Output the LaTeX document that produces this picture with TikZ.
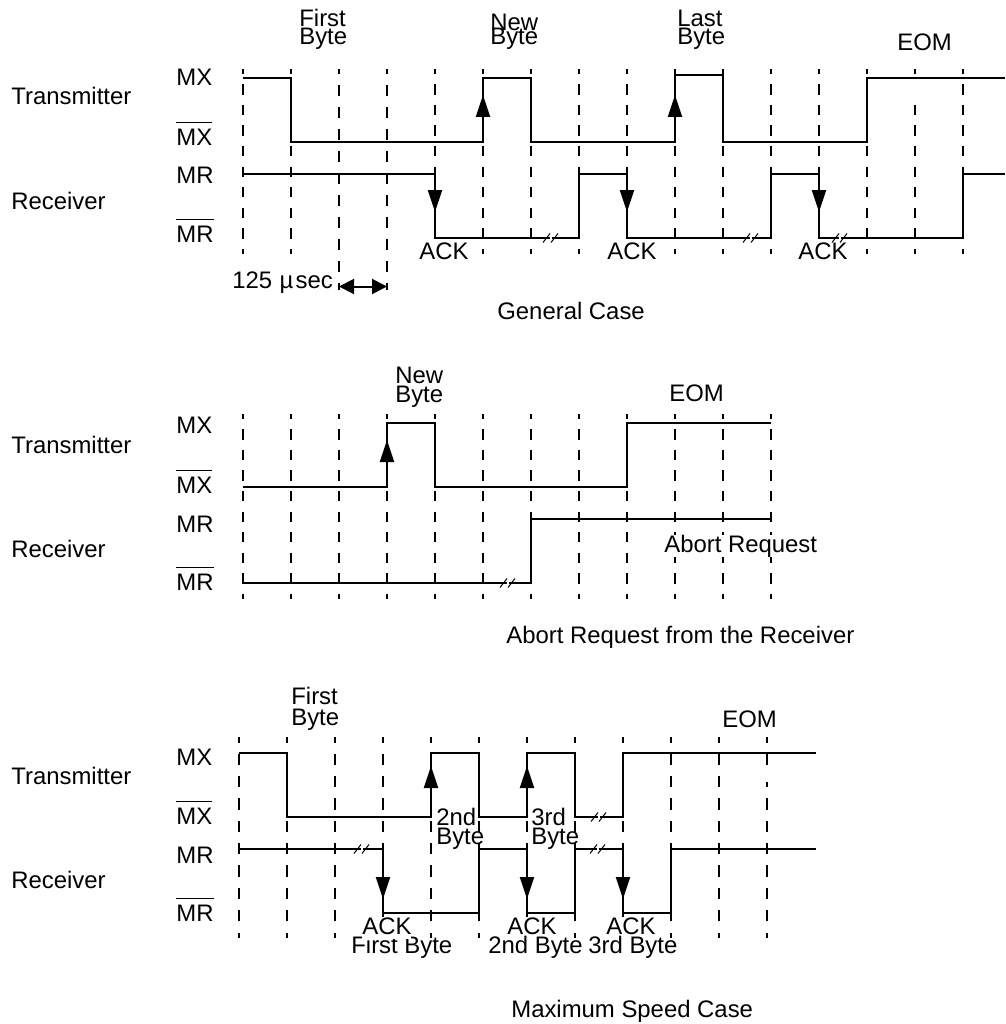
\documentclass[tikz,border=0pt]{standalone}
\usepackage{fontspec}
\setmainfont{Liberation Sans}
\usetikzlibrary{arrows.meta}

\newcommand{\barsig}[1]{\setbox0=\hbox{#1}\rlap{\rule[0.44cm]{\wd0}{0.03cm}}\box0}

\begin{document}
\begin{tikzpicture}[
    x=0.02cm, y=-0.02cm,
    lab/.style={anchor=base west, inner sep=0pt, align=left, font=\fontsize{13.6}{10.4}\selectfont},
    ack/.style={lab, fill=white},
    sig/.style={line width=0.04cm, line join=miter},
    grid14/.style={line width=0.04cm, dash pattern=on 0.206cm off 0.205cm, dash phase=0.103cm},
    gridlong/.style={line width=0.04cm, dash pattern=on 0.22cm off 0.22cm, dash phase=0.12cm},
    grid3/.style={line width=0.04cm, dash pattern=on 0.223cm off 0.224cm, dash phase=0.112cm},
    edge/.style={sig, -{Triangle[length=0.44cm, width=0.28cm]}},
    slash/.style={line width=0.02cm}
]
    \useasboundingbox (0,0) rectangle (1005,1024);

    % --- General case ---
    \foreach \x in {243,291,435,483,...,963}
        \draw[grid14] (\x,69) -- (\x,254);
    \foreach \x in {339,387}
        \draw[gridlong] (\x,69) -- (\x,290);
    \draw[white, line width=0.08cm] (915,84) -- (915,97);
    \draw[sig] (243,78) -- (291,78) -- (291,142) -- (483,142) -- (483,78) -- (531,78) -- (531,142) -- (675,142) -- (675,75) -- (723,75) -- (723,142) -- (867,142) -- (867,78) -- (1005,78);
    \draw[sig] (243,174) -- (435,174) -- (435,238) -- (579,238) -- (579,174) -- (627,174) -- (627,238) -- (771,238) -- (771,174) -- (819,174) -- (819,238) -- (963,238) -- (963,174) -- (1005,174);
    \draw[edge] (483,142) -- (483,95);
    \draw[edge] (675,142) -- (675,95);
    \draw[edge] (435,174) -- (435,212);
    \draw[edge] (627,174) -- (627,212);
    \draw[edge] (819,174) -- (819,212);
    \coordinate (wleft) at (339,286.5);
    \coordinate (wright) at (387,286.5);
    \draw[sig, {Triangle[length=0.3cm, width=0.3cm]}-{Triangle[length=0.3cm, width=0.3cm]}] (wleft) -- (wright);

    \node[lab] (xmtA) at (11,105) {Transmitter};
    \node[lab] (rcvA) at (11,209) {Receiver};
    \node[lab] (mxA) at (176,86) {MX};
    \node[lab] (nmxA) at (176,145) {\barsig{MX}};
    \node[lab] (mrA) at (176,183) {MR};
    \node[lab] (nmrA) at (176,242) {\barsig{MR}};
    \node[lab] (firstA) at (299,45) {First\\Byte};
    \node[lab] (newA) at (490,45) {New\\[-2.3pt]Byte};
    \node[lab] (lastA) at (677,45) {Last\\Byte};
    \node[lab] (eomA) at (897,51) {EOM};
    \node[ack] (ackA) at (419,259) {ACK};
    \node[ack] (ackB) at (607,259) {ACK};
    \node[ack] (ackC) at (798,259) {ACK};
    \node[lab] (timeA) at (232,288) {125 \hspace{0.5pt}µ\hspace{1.2pt}sec};
    \node[lab] (capA) at (497,319.5) {General Case};

    % --- Abort request ---
    \foreach \x in {243,291,...,771}
        \draw[grid14] (\x,414) -- (\x,599);
    \draw[sig] (243,487) -- (387,487) -- (387,423) -- (435,423) -- (435,487) -- (627,487) -- (627,423) -- (771,423);
    \draw[sig] (243,583) -- (531,583) -- (531,519) -- (771,519);
    \draw[edge] (387,487) -- (387,440);

    \node[lab] (xmtB) at (11,453) {Transmitter};
    \node[lab] (rcvB) at (11,557) {Receiver};
    \node[lab] (mxB) at (176,433) {MX};
    \node[lab] (nmxB) at (176,493) {\barsig{MX}};
    \node[lab] (mrB) at (176,532) {MR};
    \node[lab] (nmrB) at (176,590) {\barsig{MR}};
    \node[lab] (newB) at (395,402) {New\\Byte};
    \node[lab] (eomB) at (669,401) {EOM};
    \node[ack] (abortB) at (664,552) {Abort Request};
    \node[lab] (capB) at (506,643) {Abort Request from the Receiver};

    % --- Maximum speed ---
    \foreach \x in {239,287,...,767}
        \draw[grid3] (\x,737) -- (\x,938);
    \draw[white, line width=0.08cm] (767,775) -- (767,782);
    \draw[sig] (239,753) -- (287,753) -- (287,817) -- (431,817) -- (431,753) -- (479,753) -- (479,817) -- (527,817) -- (527,753) -- (575,753) -- (575,817) -- (623,817) -- (623,753) -- (816,753);
    \draw[sig] (239,849) -- (383,849) -- (383,913) -- (479,913) -- (479,849) -- (527,849) -- (527,913) -- (575,913) -- (575,849) -- (623,849) -- (623,913) -- (671,913) -- (671,849) -- (816,849);
    \draw[edge] (431,817) -- (431,766);
    \draw[edge] (527,817) -- (527,766);
    \draw[edge] (383,849) -- (383,899);
    \draw[edge] (527,849) -- (527,899);
    \draw[edge] (623,849) -- (623,899);

    \node[lab] (xmtC) at (11,784) {Transmitter};
    \node[lab] (rcvC) at (11,888) {Receiver};
    \node[lab] (mxC) at (176,765) {MX};
    \node[lab] (nmxC) at (176,824) {\barsig{MX}};
    \node[lab] (mrC) at (176,863) {MR};
    \node[lab] (nmrC) at (176,921) {\barsig{MR}};
    \node[lab] (firstC) at (291,725) {First\\[1pt]Byte};
    \node[lab] (eomC) at (722,727) {EOM};
    \node[lab] (second) at (436,844) {2nd\\Byte};
    \node[lab] (third) at (531,844) {3rd\\Byte};
    \node[lab] (firstack) at (351,953) {First Byte};
    \node[ack, text depth=0.1cm] (ackD) at (362,934) {ACK};
    \node[ack, text depth=0.1cm] (ackE) at (507,934) {ACK};
    \node[ack, text depth=0.1cm] (ackF) at (606,934) {ACK};
    \node[lab] (secondack) at (488,953) {2nd Byte};
    \node[lab] (thirdack) at (588,953) {3rd Byte};
    \node[lab] (capC) at (511,1017) {Maximum Speed Case};

    % --- Break marks ---
    \foreach \x/\y in {551/238,751/238,840/238,508/583,362/849,599/817,598/849} {
        \draw[white, line width=0.05cm] (\x-1,\y) -- (\x+1,\y);
        \draw[slash] (\x-8,\y+4.5) -- (\x-1,\y-4.5);
        \draw[slash] (\x,\y+4.5) -- (\x+7,\y-4.5);
    }
\end{tikzpicture}
\end{document}
